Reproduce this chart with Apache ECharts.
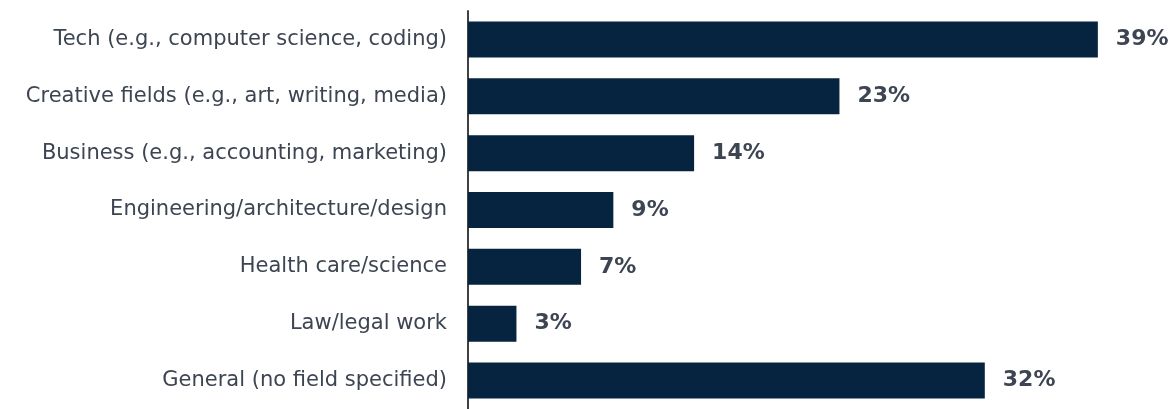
<!DOCTYPE html>
<html>
<head>
<meta charset="utf-8">
<script src="https://cdn.jsdelivr.net/npm/echarts@6/dist/echarts.min.js"></script>
<style>
  html, body { margin: 0; padding: 0; background: #ffffff; }
  #chart { width: 1173px; height: 409px; }
</style>
</head>
<body>
<div id="chart"></div>
<script>
// Fields of study, top to bottom
const categories = [
  'Tech (e.g., computer science, coding)',
  'Creative fields (e.g., art, writing, media)',
  'Business (e.g., accounting, marketing)',
  'Engineering/architecture/design',
  'Health care/science',
  'Law/legal work',
  'General (no field specified)'
];
// Share of respondents, percent
const shares = [39, 23, 14, 9, 7, 3, 32];

const FONT = '"DejaVu Sans", Verdana, sans-serif';

const chart = echarts.init(document.getElementById('chart'), null, { renderer: 'canvas' });

chart.setOption({
  animation: false,
  backgroundColor: '#ffffff',
  grid: { left: 468, right: 59, top: 11, bottom: -5, containLabel: false },
  xAxis: {
    type: 'value',
    min: 0,
    max: 40,
    show: false
  },
  yAxis: {
    type: 'category',
    data: categories,
    inverse: true,
    axisLine: { show: true, lineStyle: { color: '#404040', width: 2 } },
    axisTick: { show: false },
    axisLabel: {
      margin: 21,
      color: '#3d4552',
      fontFamily: FONT,
      fontSize: 21
    }
  },
  series: [{
    type: 'bar',
    data: shares,
    barWidth: 36,
    itemStyle: { color: '#06243f' },
    label: {
      show: true,
      position: 'right',
      distance: 18,
      formatter: '{c}%',
      color: '#3d4552',
      fontFamily: FONT,
      fontWeight: 'bold',
      fontSize: 22
    }
  }]
});
</script>
</body>
</html>
